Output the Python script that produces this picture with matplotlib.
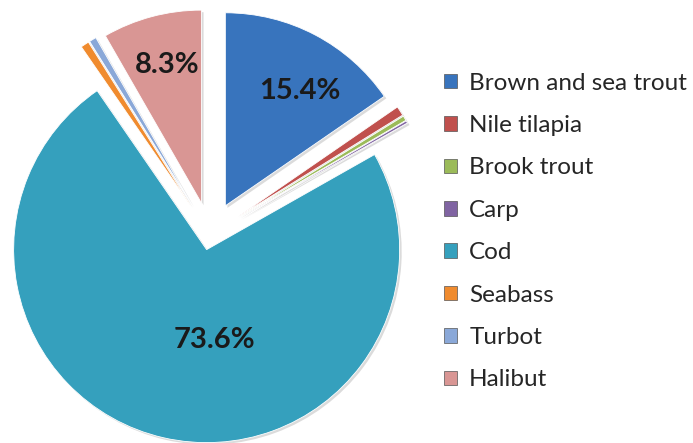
import numpy as np
import matplotlib.pyplot as plt
import matplotlib.patheffects as pe

# share of production by species (%)
species = ['Brown and sea trout', 'Nile tilapia', 'Brook trout', 'Carp',
           'Cod', 'Seabass', 'Turbot', 'Halibut']
shares = [15.4, 0.8, 0.4, 0.2, 73.6, 0.7, 0.6, 8.3]
colors = ['#3874bd', '#c0504d', '#9bbb59', '#8064a2',
          '#35a0bd', '#f08b2e', '#8aa8d8', '#d99694']
# offsets in pixels (axes use pixel units)
explode = [33, 34, 34, 34, 15, 35, 35, 33]

fig = plt.figure(figsize=(6.93, 4.43), dpi=100)
ax = fig.add_axes([0, 0, 1, 1])

shadow = [pe.SimplePatchShadow(offset=(1.5, -1.5), shadow_rgbFace='#999999', alpha=0.35),
          pe.Normal()]

R = 193
wedges, _ = ax.pie(shares, colors=colors, explode=explode, startangle=90,
                   counterclock=False, center=(210, 208), radius=R,
                   wedgeprops=dict(linewidth=0.6, edgecolor='#ffffff'))
for w in wedges:
    w.set_path_effects(shadow)

# percentage labels only on the large slices: (distance, angle)
label_pos = {0: (0.71, 57), 4: (0.47, -85), 7: (0.74, 104)}
for i, (d, ang) in label_pos.items():
    w = wedges[i]
    a = np.deg2rad(ang)
    cx, cy = w.center
    ax.text(cx + d * R * np.cos(a), cy + d * R * np.sin(a),
            f'{shares[i]:.1f}%', ha='center', va='center',
            fontsize=21, fontweight='bold', family='Lato', color='#1a1a1a')

ax.set_xlim(0, 693)
ax.set_ylim(0, 443)

leg = ax.legend(wedges, species, loc='upper left', bbox_to_anchor=(434 / 693, 1 - 63 / 443),
                frameon=False, handlelength=0.55, handleheight=0.55, handletextpad=0.5,
                labelspacing=0.88, borderaxespad=0,
                prop={'family': 'Lato', 'size': 17.5})
for t in leg.get_texts():
    t.set_color('#262626')
for h in leg.legend_handles:
    h.set_path_effects([])
    h.set_edgecolor('#555555')
    h.set_linewidth(0.5)

fig.savefig('out.png', dpi=100)
